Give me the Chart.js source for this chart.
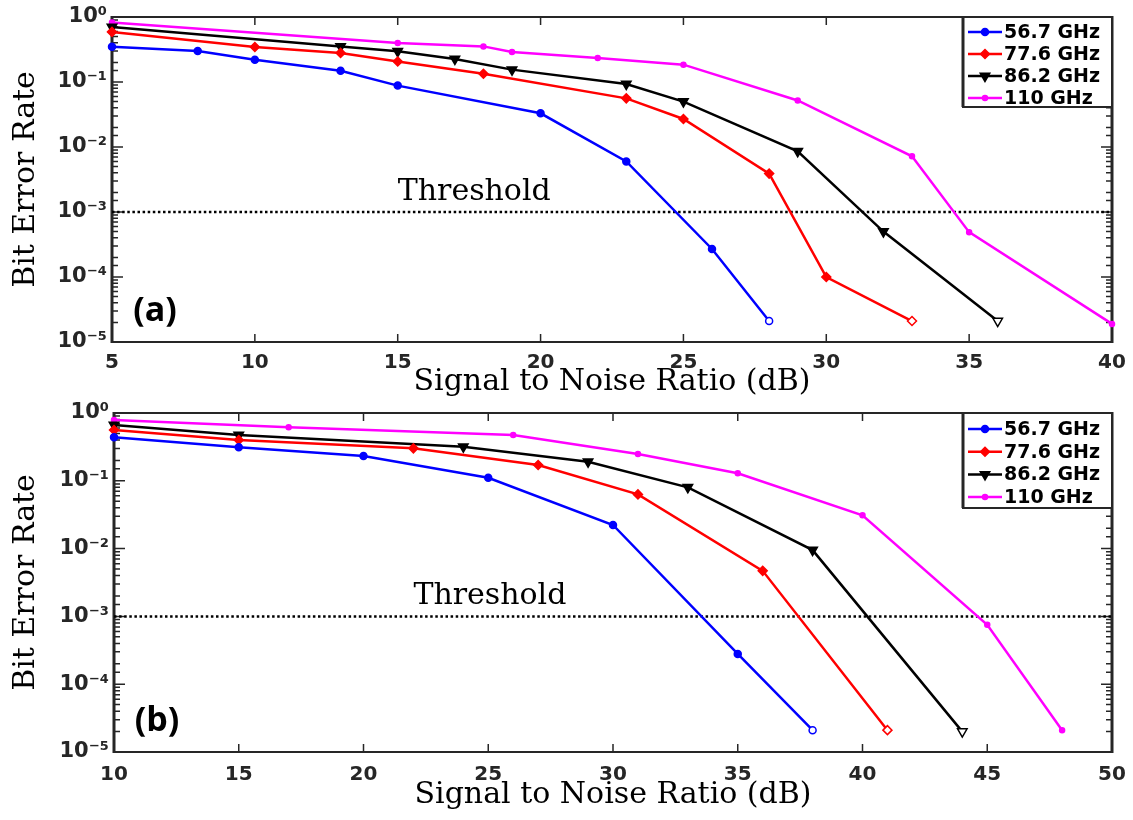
<!DOCTYPE html>
<html><head><meta charset="utf-8">
<script src="https://cdn.jsdelivr.net/npm/chart.js@4.4.1/dist/chart.umd.min.js"></script>
<style>
html,body{margin:0;padding:0;background:#fff;width:1133px;height:820px;overflow:hidden}
canvas{position:absolute;left:0}
#ca{top:0}
#cb{top:400px}
</style></head>
<body>
<canvas id="ca" width="1133" height="400"></canvas>
<canvas id="cb" width="1133" height="420"></canvas>
<script>
// ---------- DATA ----------
const seriesLabels = ['56.7 GHz', '77.6 GHz', '86.2 GHz', '110 GHz'];
const thresholdBER = 1e-3;
const yTickExponents = [0, -1, -2, -3, -4, -5];

// Panel (a)
const snrA_567 = [5, 8, 10, 13, 15, 20, 23, 26, 28];
const berA_567 = [0.35, 0.30, 0.22, 0.149, 0.088, 0.033, 0.006, 2.7e-4, 2.1e-5];
const snrA_776 = [5, 10, 13, 15, 18, 23, 25, 28, 30, 33];
const berA_776 = [0.59, 0.345, 0.28, 0.207, 0.134, 0.056, 0.027, 0.0039, 1.0e-4, 2.1e-5];
const snrA_862 = [5, 13, 15, 17, 19, 23, 25, 29, 32, 36];
const berA_862 = [0.70, 0.353, 0.296, 0.226, 0.155, 0.093, 0.050, 0.0086, 5.0e-4, 2.1e-5];
const snrA_110 = [5, 15, 18, 19, 22, 25, 29, 33, 35, 40];
const berA_110 = [0.826, 0.398, 0.353, 0.29, 0.234, 0.185, 0.052, 0.0072, 4.9e-4, 1.9e-5];

// Panel (b)
const snrB_567 = [10, 15, 20, 25, 30, 35, 38];
const berB_567 = [0.438, 0.312, 0.232, 0.111, 0.0223, 2.8e-4, 2.1e-5];
const snrB_776 = [10, 15, 22, 27, 31, 36, 41];
const berB_776 = [0.561, 0.40, 0.301, 0.171, 0.063, 0.0047, 2.1e-5];
const snrB_862 = [10, 15, 24, 29, 33, 38, 44];
const berB_862 = [0.665, 0.474, 0.318, 0.191, 0.080, 0.0095, 2.0e-5];
const snrB_110 = [10, 17, 26, 31, 35, 40, 45, 48];
const berB_110 = [0.789, 0.615, 0.474, 0.248, 0.129, 0.031, 7.5e-4, 2.1e-5];

// ---------- STYLE ----------
const colors = ['#0000ff', '#ff0000', '#000000', '#ff00ff'];
const pStyles = ['circle', 'rectRot', 'triangle', 'circle'];
const pRot = [0, 0, 180, 0];
const pRad = [3.5, 4.5, 5.5, 2.5];
const AXIS = '#262626';

const supMap = {'0':'⁰','1':'¹','2':'²','3':'³','4':'⁴','5':'⁵','6':'⁶','7':'⁷','8':'⁸','9':'⁹','-':'⁻'};
function sup(n){ return String(n).split('').map(c => supMap[c]).join(''); }

function seriesDS(snr, ber, i) {
  const last = snr.length - 1;
  return {
    label: seriesLabels[i],
    data: snr.map((x, k) => ({x: x, y: ber[k]})),
    borderColor: colors[i],
    borderWidth: 2.5,
    pointStyle: pStyles[i],
    rotation: pRot[i],
    pointRadius: pRad[i],
    pointBorderWidth: 1.5,
    pointBorderColor: colors[i],
    pointBackgroundColor: c => (c.dataIndex === last && i !== 3) ? '#ffffff' : colors[i],
    tension: 0,
    clip: false,
    order: 1
  };
}

const decor = {
  id: 'decor',
  beforeDatasetsDraw(chart, args, o) {
    const ctx = chart.ctx, a = chart.chartArea;
    const xs = chart.scales.x, ys = chart.scales.y;
    ctx.save();
    ctx.strokeStyle = AXIS;
    ctx.lineWidth = 1.5;
    ctx.beginPath();
    xs.ticks.forEach(t => {
      const px = xs.getPixelForValue(t.value);
      if (px <= a.left + 1 || px >= a.right - 1) return;
      ctx.moveTo(px, a.bottom); ctx.lineTo(px, a.bottom - 8);
      ctx.moveTo(px, a.top); ctx.lineTo(px, a.top + 8);
    });
    ys.ticks.forEach(t => {
      const py = ys.getPixelForValue(t.value);
      const lg = Math.log10(t.value);
      const major = Math.abs(lg - Math.round(lg)) < 1e-6;
      const len = major ? 11 : 6;
      ctx.moveTo(a.left, py); ctx.lineTo(a.left + len, py);
      ctx.moveTo(a.right, py); ctx.lineTo(a.right - len, py);
    });
    ctx.stroke();
    ctx.lineWidth = 2;
    ctx.beginPath();
    ctx.moveTo(a.left, a.top); ctx.lineTo(a.right, a.top);
    ctx.moveTo(a.left, a.bottom); ctx.lineTo(a.right, a.bottom);
    ctx.stroke();
    ctx.lineWidth = 3;
    ctx.beginPath();
    ctx.moveTo(a.left, a.top - 1); ctx.lineTo(a.left, a.bottom + 1);
    ctx.moveTo(a.right, a.top - 1); ctx.lineTo(a.right, a.bottom + 1);
    ctx.stroke();
    ctx.restore();
  },
  afterDraw(chart, args, o) {
    const ctx = chart.ctx, a = chart.chartArea;
    const xs = chart.scales.x, ys = chart.scales.y;
    ctx.save();
    ctx.fillStyle = '#000';
    ctx.font = '30px "DejaVu Serif"';
    ctx.textAlign = 'left';
    ctx.textBaseline = 'alphabetic';
    ctx.fillText('Threshold', xs.getPixelForValue(o.thrX), ys.getPixelForValue(thresholdBER) - 12);
    ctx.font = 'bold 34px "Open Sans"';
    ctx.textAlign = 'center';
    ctx.textBaseline = 'middle';
    ctx.fillText(o.label, a.left + 43, a.bottom - 31);
    const bw = 149, bh = o.legH;
    const bx = a.right - bw, by = a.top;
    ctx.fillStyle = '#fff';
    ctx.fillRect(bx, by, bw, bh);
    ctx.strokeStyle = AXIS;
    ctx.lineWidth = 2;
    ctx.strokeRect(bx, by, bw, bh);
    ctx.lineWidth = 3;
    ctx.beginPath(); ctx.moveTo(bx, by); ctx.lineTo(bx, by + bh); ctx.stroke();
    chart.data.datasets.forEach((ds, i) => {
      if (i >= seriesLabels.length) return;
      const cy = by + o.legRow0 + i * o.legStep;
      ctx.strokeStyle = colors[i];
      ctx.lineWidth = 2.5;
      ctx.beginPath(); ctx.moveTo(bx + 5, cy); ctx.lineTo(bx + 39, cy); ctx.stroke();
      ctx.fillStyle = colors[i];
      ctx.lineWidth = 1.5;
      Chart.helpers.drawPoint(ctx, {pointStyle: pStyles[i], rotation: pRot[i], radius: pRad[i], borderWidth: 1.5}, bx + 22, cy);
      ctx.fillStyle = '#000';
      ctx.font = 'bold 19px "DejaVu Sans"';
      ctx.textAlign = 'left';
      ctx.textBaseline = 'middle';
      ctx.fillText(ds.label, bx + 41, cy + 1);
    });
    ctx.restore();
  }
};

function makeChart(id, sets, xMin, xMax, L) {
  const datasets = sets.map((s, i) => seriesDS(s[0], s[1], i));
  datasets.push({
    label: 'Threshold',
    data: [{x: xMin, y: thresholdBER}, {x: xMax, y: thresholdBER}],
    borderColor: '#000', borderWidth: 2.5, borderDash: [2.5, 2.6],
    pointRadius: 0, tension: 0, order: 2
  });
  return new Chart(document.getElementById(id), {
    type: 'line',
    data: {datasets},
    plugins: [decor],
    options: {
      responsive: false, animation: false, devicePixelRatio: 1,
      layout: {padding: {left: 0, right: 21, top: L.padTop, bottom: 0}},
      plugins: {
        legend: {display: false}, tooltip: {enabled: false},
        decor: {thrX: L.thrX, label: L.label, legH: L.legH, legRow0: L.legRow0, legStep: L.legStep}
      },
      scales: {
        x: {
          type: 'linear', min: xMin, max: xMax,
          grid: {display: false, drawTicks: false}, border: {display: false},
          ticks: {stepSize: 5, autoSkip: false, maxRotation: 0, padding: L.xTickPad, color: AXIS,
                  font: {family: 'DejaVu Sans', weight: 'bold', size: 20}},
          title: {display: true, text: 'Signal to Noise Ratio (dB)', color: '#000',
                  font: {family: 'DejaVu Serif', size: 30, lineHeight: 1.2}, padding: {top: 0, bottom: L.xTitlePad}},
          afterFit: s => { s.height = L.xH; s.paddingLeft = 0; s.paddingRight = 0; }
        },
        y: {
          type: 'logarithmic', min: 1e-5, max: 1,
          grid: {display: false, drawTicks: false}, border: {display: false},
          ticks: {autoSkip: false, padding: 5, color: AXIS,
                  font: {family: 'DejaVu Sans', weight: 'bold', size: 21},
                  callback: v => {
                    const e = Math.round(Math.log10(v));
                    return (Math.abs(Math.log10(v) - e) < 1e-6 && yTickExponents.includes(e)) ? '10' + sup(e) : '';
                  }},
          title: {display: true, text: 'Bit Error Rate', color: '#000',
                  font: {family: 'DejaVu Serif', size: 30, lineHeight: 1.2}, padding: {top: 8, bottom: 0}},
          afterFit: s => { s.width = L.yW; s.paddingTop = 0; s.paddingBottom = 0; }
        }
      }
    }
  });
}

makeChart('ca', [[snrA_567, berA_567], [snrA_776, berA_776], [snrA_862, berA_862], [snrA_110, berA_110]], 5, 40,
  {padTop: 17, yW: 112, xH: 58, xTickPad: 9, xTitlePad: 0, thrX: 15, label: '(a)', legH: 90, legRow0: 15, legStep: 22});
makeChart('cb', [[snrB_567, berB_567], [snrB_776, berB_776], [snrB_862, berB_862], [snrB_110, berB_110]], 10, 50,
  {padTop: 13, yW: 114, xH: 68, xTickPad: 11, xTitlePad: 7, thrX: 22, label: '(b)', legH: 95, legRow0: 16, legStep: 22.7});
</script>
</body></html>
